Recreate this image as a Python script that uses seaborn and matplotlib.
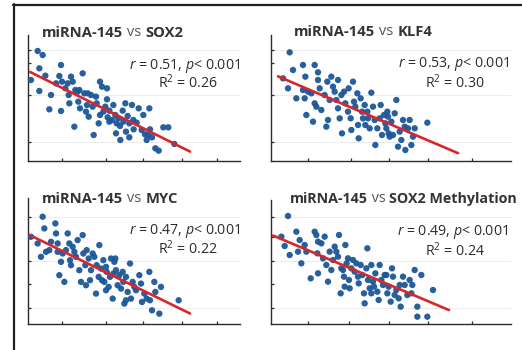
import numpy as np
import pandas as pd
import matplotlib
matplotlib.use("Agg")
import matplotlib.pyplot as plt
from matplotlib.lines import Line2D
import seaborn as sns

# ---------------- data (arbitrary expression units) ----------------
sox2_x = [35,50,40,15,58,40,75,70,105,100,108,105,118,125,128,130,140,148,155,145,
          157,162,170,175,180,183,188,195,200,203,210,212,218,222,222,228,232,238,243,243,
          245,250,258,262,268,272,270,277,282,283,290,292,298,300,305,310,318,322,323,332,
          338,347,352,357,362,367,370,372,378,388,398,412,427,445,135,90,160,185,250,310]
sox2_y = [330,318,278,243,256,210,198,155,288,255,238,150,218,233,198,173,238,213,208,103,
          178,158,263,203,148,168,133,198,163,78,193,173,113,238,138,223,148,163,218,185,
          131,151,123,168,138,113,83,128,105,63,151,118,173,88,135,71,168,123,95,115,
          158,93,138,80,63,78,158,95,71,38,31,101,101,51,253,233,213,203,118,113]

klf4_x = [65,75,45,60,105,140,112,150,105,85,110,120,130,115,135,140,150,155,160,170,
          178,180,185,190,195,200,205,210,210,215,220,222,228,232,240,242,248,255,258,262,
          268,270,272,278,282,285,290,292,298,300,305,310,315,320,322,328,335,338,342,348,
          352,355,358,362,365,370,375,380,385,390,395,400,405,410,412,420,425,430,435,440,
          478,145,250,360,175]
klf4_y = [326,273,248,218,288,288,253,266,213,188,188,208,203,138,118,173,243,218,153,198,
          238,123,183,253,223,208,183,243,158,128,198,83,208,173,148,218,128,238,178,163,
          203,108,68,188,148,128,168,108,148,128,98,205,163,123,48,98,128,168,78,138,
          113,98,148,83,73,118,78,143,183,43,88,63,123,103,33,98,123,48,73,98,
          115,163,93,133,103]

myc_x = [50,55,88,15,35,45,60,70,75,90,95,95,100,105,115,110,120,125,130,132,
         140,145,150,155,160,165,170,172,178,182,188,192,195,200,205,210,212,218,220,225,
         228,232,235,240,242,248,252,255,260,262,265,268,270,275,280,285,290,292,295,300,
         305,312,315,320,325,330,340,345,348,355,362,370,372,378,385,388,400,405,458,135,
         180,240,300]
myc_y = [321,286,301,261,241,201,216,221,246,271,241,216,146,186,126,211,221,271,241,191,
         231,216,201,251,161,126,266,211,176,221,196,131,161,211,201,91,176,141,236,166,
         131,191,126,171,156,111,141,196,76,151,186,196,161,116,146,106,156,126,61,71,
         96,181,76,126,111,101,146,121,66,91,76,156,71,41,126,96,31,111,71,176,
         116,101,141]

meth_x = [60,40,50,65,85,95,90,100,110,115,128,140,145,150,148,150,160,165,170,175,
          180,185,190,195,200,205,210,213,218,220,225,228,232,236,240,243,245,250,255,260,
          265,270,272,278,283,288,290,295,298,300,305,310,315,318,322,328,332,335,340,345,
          350,355,358,362,368,372,375,380,385,392,398,405,410,418,425,430,433,440,448,448,
          460,478,495,230,310,395]
meth_y = [324,262,234,207,277,252,217,182,237,217,137,277,267,247,212,152,242,197,262,177,
          127,217,162,192,232,217,202,267,92,167,162,142,237,182,197,132,107,167,192,157,
          182,142,122,177,147,92,62,167,227,132,107,177,127,112,152,97,72,177,132,117,
          147,147,92,112,67,167,142,87,102,77,52,142,117,87,132,92,117,162,52,22,
          147,22,102,112,92,117]

targets = ["SOX2", "KLF4", "MYC", "SOX2 Methylation"]
r_values = ["0.51", "0.53", "0.47", "0.49"]
r2_values = ["0.26", "0.30", "0.22", "0.24"]
fit_ranges = [(12, 492), (30, 570), (12, 492), (15, 543)]

# ---------------- style ----------------
sns.set_theme(style="white")
plt.rcParams["font.family"] = ["Open Sans", "DejaVu Sans"]
plt.rcParams["mathtext.fontset"] = "custom"
plt.rcParams["mathtext.rm"] = "Open Sans"
plt.rcParams["mathtext.it"] = "Open Sans:italic"
plt.rcParams["mathtext.bf"] = "Open Sans:bold"

W, H = 522, 350
fig = plt.figure(figsize=(W / 100, H / 100), dpi=100)
fig.patch.set_facecolor("white")

def fx(px):
    return px / W

def fy(py):
    return 1 - py / H

# panel boxes in pixels: left, top, right, bottom
boxes = [(28, 35, 240, 161), (271, 35, 511, 161), (28, 198, 240, 324), (271, 200, 511, 324)]
xlims = [(6, 642), (9, 729), (6, 642), (9, 729)]
ylims = [(0, 378), (0, 378), (0, 377), (0, 372)]
xticks = [[108, 240, 351, 468, 573], [120, 249, 363, 480, 612],
          [108, 240, 351, 468, 573], [120, 243, 363, 480, 612]]
ygrid = [[333, 198, 57], [333, 198, 57], [320, 188, 47], [321, 189, 48]]
yminor = [[294], [294], [260, 119], [261, 120]]

title_pos = [(42, 37), (294, 36), (42, 203), (290, 203)]
title_size = [10.6, 10.6, 10.6, 10.3]
r_pos = [(240, 69), (509, 67), (240, 234), (508, 235)]
r2_pos = [(188, 88), (455, 88), (188, 254), (455, 256)]

data = [(sox2_x, sox2_y), (klf4_x, klf4_y), (myc_x, myc_y), (meth_x, meth_y)]

POINT = "#1b5797"
LINE = "#d8262b"
DARK = "#2b2b2b"

for i in range(4):
    l, t, r, b = boxes[i]
    ax = fig.add_axes([fx(l), fy(b), (r - l) / W, (b - t) / H])
    x, y = data[i]
    df = pd.DataFrame({"miRNA-145": x, targets[i]: y})
    ax.set_axisbelow(True)
    sns.scatterplot(data=df, x="miRNA-145", y=targets[i], ax=ax, s=21,
                    color=POINT, edgecolor="none", alpha=0.95, zorder=3)
    slope, intercept = np.polyfit(df["miRNA-145"], df[targets[i]], 1)
    fit = pd.DataFrame({"x": list(fit_ranges[i])})
    fit["y"] = slope * fit["x"] + intercept
    sns.lineplot(data=fit, x="x", y="y", ax=ax, color=LINE, lw=1.9, zorder=4)
    ax.set_xlim(*xlims[i])
    ax.set_ylim(*ylims[i])
    ax.set_xticks(xticks[i])
    ax.set_yticks(ygrid[i])
    ax.set_yticks(yminor[i], minor=True)
    ax.set_xticklabels([])
    ax.set_yticklabels([])
    ax.set_xlabel("")
    ax.set_ylabel("")
    ax.grid(False, which="both")
    ax.grid(axis="y", which="major", color="#ebebeb", lw=0.7)
    ax.tick_params(axis="both", which="both", direction="in", length=2.5,
                   width=0.9, color=DARK, bottom=True, left=True)
    for side in ["top", "right"]:
        ax.spines[side].set_visible(False)
    for side in ["left", "bottom"]:
        ax.spines[side].set_color(DARK)
        ax.spines[side].set_linewidth(1.0)
    ax.set_facecolor("none")

    # title with mixed weights
    tx, ty = title_pos[i]
    fs = title_size[i]
    t1 = fig.text(fx(tx), fy(ty), "miRNA-145", fontsize=fs, fontweight="bold",
                  color="#333333", va="baseline", ha="left")
    t2 = ax.annotate(" vs ", xy=(1, 0), xycoords=t1, fontsize=fs, color="#555555",
                     va="bottom", ha="left", annotation_clip=False)
    ax.annotate(targets[i], xy=(1, 0), xycoords=t2, fontsize=fs, fontweight="bold",
                color="#333333", va="bottom", ha="left", annotation_clip=False)

    rx, ry = r_pos[i]
    fig.text(fx(rx), fy(ry), r"$\it{r}$ = " + r_values[i] + r", $\it{p}$< 0.001",
             fontsize=10.2, color=DARK, ha="right", va="baseline")
    qx, qy = r2_pos[i]
    fig.text(fx(qx), fy(qy), r"R$^2$ = " + r2_values[i],
             fontsize=10.2, color=DARK, ha="center", va="baseline")

# outer frame
fig.add_artist(Line2D([fx(13), fx(522)], [fy(5), fy(5)], color="#222222", lw=1.6))
fig.add_artist(Line2D([fx(14), fx(14)], [fy(4.2), fy(350)], color="#222222", lw=1.6))

fig.savefig("out.png", dpi=100, facecolor="white")
